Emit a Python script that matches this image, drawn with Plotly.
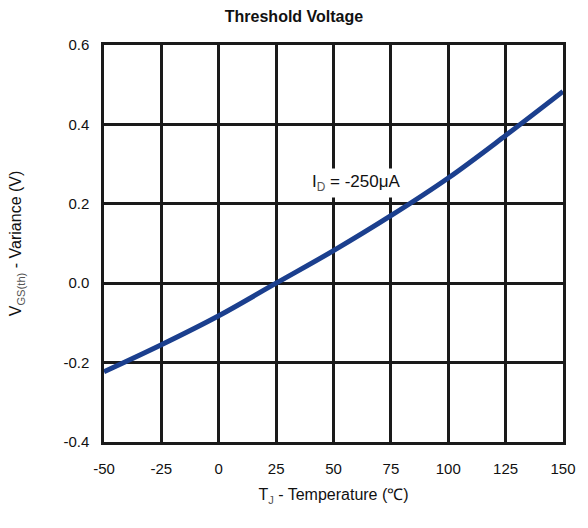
import plotly.graph_objects as go

temps = [-50, -25, 0, 25, 50, 75, 100, 125, 150]
vgs_variance = [-0.223, -0.155, -0.082, 0.0, 0.082, 0.170, 0.265, 0.372, 0.483]
x_ticks = [-50, -25, 0, 25, 50, 75, 100, 125, 150]
y_ticks = [-0.4, -0.2, 0.0, 0.2, 0.4, 0.6]
y_tick_labels = ["-0.4", "-0.2", "0.0", "0.2", "0.4", "0.6"]

FONT = "Liberation Sans, Arial, sans-serif"

fig = go.Figure()
fig.add_trace(go.Scatter(
    x=temps, y=vgs_variance, mode="lines",
    line=dict(color="#1b3f8e", width=5, shape="spline"),
    showlegend=False,
))

fig.add_annotation(
    x=60, y=0.253, xref="x", yref="y",
    text="I<sub><span style='color:#555'>D</span></sub> = -250μA", showarrow=False,
    font=dict(family=FONT, size=17, color="#111111"),
    bgcolor="white", borderpad=3,
)

axis_common = dict(
    showgrid=True, gridcolor="#1a1a1a", gridwidth=2.5,
    showline=True, linecolor="#1a1a1a", linewidth=2.5, mirror=True,
    zeroline=False, ticks="",
    tickfont=dict(family=FONT, size=15, color="#111111"),
)

fig.update_xaxes(
    range=[-50, 150], tickvals=x_ticks, ticktext=[str(t) for t in x_ticks],
    ticklabelstandoff=11,
    title=dict(text="T<sub><span style='color:#555'>J</span></sub> - Temperature (℃)",
               font=dict(family=FONT, size=16, color="#111111"), standoff=14),
    **axis_common,
)
fig.update_yaxes(
    range=[-0.4, 0.6], tickvals=y_ticks, ticktext=y_tick_labels,
    ticklabelstandoff=9,
    title=dict(text="V<sub><span style='color:#555'>GS(th)</span></sub> - Variance (V)",
               font=dict(family=FONT, size=16, color="#111111"), standoff=38),
    **axis_common,
)

fig.update_layout(
    width=588, height=528,
    margin=dict(l=104, r=23, t=45, b=86),
    paper_bgcolor="white", plot_bgcolor="white",
    title=dict(text="<b>Threshold Voltage</b>", x=0.5, xanchor="center",
               y=0.968, yanchor="middle",
               font=dict(family=FONT, size=16, color="#111111")),
)

fig.write_html("out.html")
